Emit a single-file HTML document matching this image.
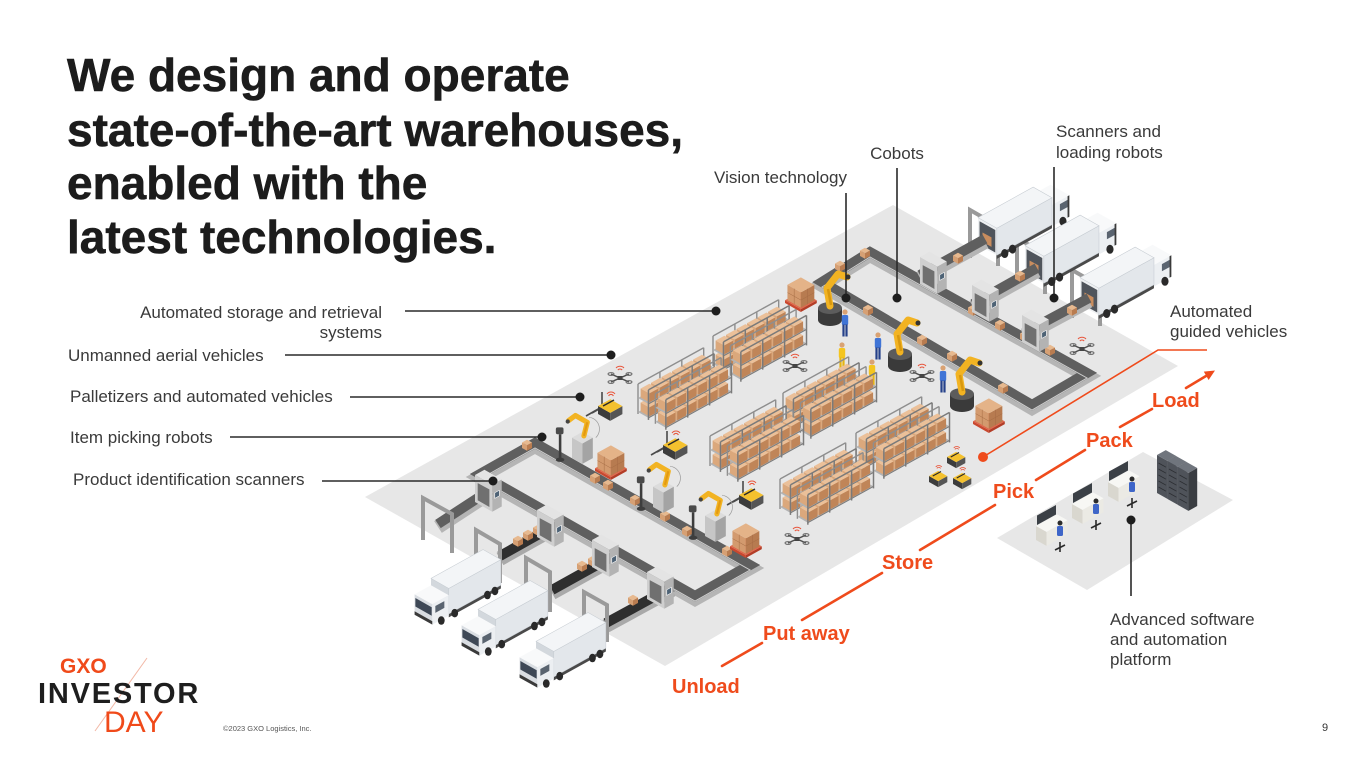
<!DOCTYPE html>
<html><head><meta charset="utf-8"><style>
html,body{margin:0;padding:0;background:#fff;}
svg{display:block;}
text{font-family:"Liberation Sans",Arial,sans-serif;}
</style></head><body>
<svg width="1365" height="768" viewBox="0 0 1365 768" xmlns="http://www.w3.org/2000/svg">
<defs>
<g id="bx"><polygon points="0,0 8.7,4.9 8.7,-4.1 0,-9" fill="#dba87c"/><polygon points="8.7,4.9 17.5,0.1 17.5,-8.9 8.7,-4.1" fill="#c08558"/><polygon points="0,-9 8.8,-13.8 17.5,-8.9 8.7,-4.1" fill="#ebc099"/></g>
<g id="sb"><polygon points="0,0 5,2.8 5,-2.7 0,-5.5" fill="#d6a074"/><polygon points="5,2.8 10,0 10,-5.5 5,-2.7" fill="#b97c50"/><polygon points="0,-5.5 5,-8.3 10,-5.5 5,-2.7" fill="#e7b98f"/></g>
<g id="sh">
 <g stroke="#8e8e8e" stroke-width="1.4"><line x1="0" y1="0" x2="0" y2="-30"/><line x1="21.9" y1="-12.1" x2="21.9" y2="-42.1"/><line x1="43.8" y1="-24.2" x2="43.8" y2="-54.2"/><line x1="65.7" y1="-36.3" x2="65.7" y2="-66.3"/><line x1="0" y1="-30" x2="65.7" y2="-66.3"/></g>
 <polygon points="0,-2 65.7,-38.3 76.1,-32.4 10.45,3.9" fill="#b3b3b3"/>
 <use href="#bx" x="55.2" y="-31.5"/><use href="#bx" x="44.7" y="-25.7"/><use href="#bx" x="34.1" y="-19.9"/><use href="#bx" x="23.6" y="-14.1"/><use href="#bx" x="13.1" y="-8.3"/><use href="#bx" x="2.6" y="-2.5"/>
 <polygon points="0,-16 65.7,-52.3 76.1,-46.4 10.45,-10.1" fill="#b3b3b3"/>
 <use href="#bx" x="55.2" y="-45.5"/><use href="#bx" x="44.7" y="-39.7"/><use href="#bx" x="34.1" y="-33.9"/><use href="#bx" x="23.6" y="-28.1"/><use href="#bx" x="13.1" y="-22.3"/><use href="#bx" x="2.6" y="-16.5"/>
 <g stroke="#7a7a7a" stroke-width="1.5"><line x1="10.45" y1="5.9" x2="10.45" y2="-24.1"/><line x1="32.3" y1="-6.2" x2="32.3" y2="-36.2"/><line x1="54.2" y1="-18.3" x2="54.2" y2="-48.3"/><line x1="76.1" y1="-30.4" x2="76.1" y2="-60.4"/><line x1="10.45" y1="-24.1" x2="76.1" y2="-60.4"/><line x1="10.45" y1="-10.1" x2="76.1" y2="-46.4" stroke-width="1"/><line x1="10.45" y1="3.9" x2="76.1" y2="-32.4" stroke-width="1"/></g>
</g>
<g id="rk"><use href="#sh"/><use href="#sh" x="17.4" y="9.8"/></g>
<g id="pl">
 <polygon points="0,0 22.6,12.8 22.6,8.8 0,-4" fill="#c9482f"/><polygon points="22.6,12.8 45.4,0.2 45.4,-3.8 22.6,8.8" fill="#b33d27"/><polygon points="0,-4 22.8,-16.6 45.4,-3.8 22.6,8.8" fill="#e0664a"/>
 <polygon points="3.5,-4 22.65,6.8 22.65,-15.2 3.5,-26" fill="#d39a6e"/><polygon points="22.65,6.8 41.9,-3.8 41.9,-25.8 22.65,-15.2" fill="#b77b50"/><polygon points="3.5,-26 22.7,-36.6 41.9,-25.8 22.65,-15.2" fill="#e4b388"/>
 <g stroke="#a56c44" stroke-width=".7"><line x1="3.5" y1="-15" x2="22.65" y2="-4.2"/><line x1="22.65" y1="-4.2" x2="41.9" y2="-14.8"/><line x1="13.1" y1="1.4" x2="13.1" y2="-20.6"/><line x1="32.3" y1="1.5" x2="32.3" y2="-20.5"/></g>
</g>
<g id="rb">
 <ellipse cx="0" cy="0" rx="12" ry="6" fill="#3a3a3a"/><rect x="-12" y="-12" width="24" height="12" fill="#3a3a3a"/><ellipse cx="0" cy="-12" rx="12" ry="6" fill="#5c5c5c"/>
 <path d="M0,-14 L-3,-32 L8,-46 L17,-43" fill="none" stroke="#f2b322" stroke-width="7" stroke-linejoin="round" stroke-linecap="round"/>
 <path d="M1,-15 L-2,-31" stroke="#d8980f" stroke-width="2.5"/><circle cx="18" cy="-43" r="2.5" fill="#333"/>
</g>
<g id="lr">
 <line x1="-14" y1="2" x2="-14" y2="-28" stroke="#3d3d3d" stroke-width="3"/><ellipse cx="-14" cy="2" rx="5" ry="2.5" fill="#3d3d3d"/><rect x="-19" y="-36" width="9" height="8" rx="2" fill="#4a4a4a"/>
 <polygon points="0,0 12.2,6.9 12.2,-17.1 0,-24" fill="#c6c6c6"/><polygon points="12.2,6.9 24.5,0.1 24.5,-23.9 12.2,-17.1" fill="#a4a4a4"/><polygon points="0,-24 12.3,-30.8 24.5,-23.9 12.2,-17.1" fill="#dcdcdc"/>
 <path d="M14,-26 L18,-42 L4,-50 L-4,-44" fill="none" stroke="#f2b322" stroke-width="6" stroke-linejoin="round" stroke-linecap="round"/>
 <path d="M14,-26 L18,-42" stroke="#e39a12" stroke-width="2.5"/><circle cx="-5" cy="-43" r="2.5" fill="#444"/>
 <path d="M20,-48 A14,14 0 0 1 28,-24" fill="none" stroke="#999" stroke-width="0.8"/>
</g>
<g id="agb">
 <polygon points="0,0 12.2,6.9 12.2,-1.1 0,-8" fill="#3c3c3c"/><polygon points="12.2,6.9 24.4,0.1 24.4,-7.9 12.2,-1.1" fill="#555"/>
 <polygon points="0,-8 12.3,-14.8 24.4,-7.9 12.2,-1.1" fill="#f4c12e"/><line x1="5" y1="-8" x2="16" y2="-14" stroke="#2a2a2a" stroke-width="1.5"/>
 <path d="M9,-20 a5,5 0 0 1 8,0 M10.6,-18 a2.6,2.6 0 0 1 4.8,0" stroke="#e8543a" fill="none" stroke-width="1"/>
</g>
<g id="agf"><path d="M2,-6 L-12,2 M8,-9 L-6,-1 M4,-7 L4,-22" stroke="#4a4a4a" stroke-width="1.6"/></g>
<g id="dr" fill="none">
 <path d="M-9,-4 L9,4 M-9,4 L9,-4" stroke="#4d4d4d" stroke-width="1.5"/>
 <g stroke="#666" stroke-width="1"><ellipse cx="-9" cy="-4" rx="3" ry="1.4"/><ellipse cx="9" cy="4" rx="3" ry="1.4"/><ellipse cx="-9" cy="4" rx="3" ry="1.4"/><ellipse cx="9" cy="-4" rx="3" ry="1.4"/></g>
 <rect x="-2.5" y="-2" width="5" height="4" fill="#444"/>
 <path d="M-4,-10 a5.5,5.5 0 0 1 8,0 M-2.2,-8 a3,3 0 0 1 4.4,0" stroke="#e8543a" stroke-width="1"/>
</g>
<g id="pb"><circle cx="0" cy="-25" r="2.6" fill="#d9a273"/><rect x="-3.2" y="-22" width="6.4" height="10" rx="1.5" fill="#3f74d6"/><rect x="-2.6" y="-12.5" width="2.2" height="12" fill="#25418a"/><rect x="0.4" y="-12.5" width="2.2" height="12" fill="#25418a"/></g>
<g id="py"><circle cx="0" cy="-25" r="2.6" fill="#d9a273"/><rect x="-3.2" y="-22" width="6.4" height="10" rx="1.5" fill="#f4c51f"/><rect x="-2.6" y="-12.5" width="2.2" height="12" fill="#e6b412"/><rect x="0.4" y="-12.5" width="2.2" height="12" fill="#e6b412"/></g>
<g id="sc">
 <polygon points="0,0 19.2,10.8 19.2,-19.2 0,-30" fill="#cfcfcf"/><polygon points="3,-2 16,5.5 16,-14 3,-21" fill="#707070"/>
 <polygon points="19.2,10.8 29.7,5 29.7,-25 19.2,-19.2" fill="#b3b3b3"/><polygon points="22,-4 27,-6.8 27,-13 22,-10.2" fill="#4d6275" stroke="#fff" stroke-width=".6"/>
 <polygon points="0,-30 10.5,-35.8 29.7,-25 19.2,-19.2" fill="#e4e4e4"/>
</g>
<g id="ws">
 <polygon points="1,-15 20,-25.5 20,-35 1,-24.5" fill="#3b4046"/>
 <polygon points="0,0 10.5,5.9 10.5,-8.1 0,-14" fill="#d9d7cf"/><polygon points="10.5,5.9 31.5,-5.7 31.5,-19.7 10.5,-8.1" fill="#ebeae4"/><polygon points="0,-14 21,-25.6 31.5,-19.7 10.5,-8.1" fill="#f7f7f4"/>
 <rect x="21" y="-14" width="6" height="10" rx="1.5" fill="#3f66c8"/><circle cx="24" cy="-17" r="2.5" fill="#2b2b2b"/>
 <path d="M19,10 L29,5 M24,2 L24,12" stroke="#2a2a2a" stroke-width="1.6"/>
</g>
<g id="sv">
 <polygon points="0,0 10.45,5.9 10.45,-32.1 0,-38" fill="#4f535a"/><polygon points="10.45,5.9 19.2,1.05 19.2,-36.95 10.45,-32.1" fill="#3a3d42"/><polygon points="0,-38 8.76,-42.84 19.2,-36.95 10.45,-32.1" fill="#70757d"/>
 <g stroke="#2c2e32" stroke-width=".8"><line x1="1.5" y1="-30" x2="9" y2="-25.8"/><line x1="1.5" y1="-24" x2="9" y2="-19.8"/><line x1="1.5" y1="-18" x2="9" y2="-13.8"/><line x1="1.5" y1="-12" x2="9" y2="-7.8"/><line x1="1.5" y1="-6" x2="9" y2="-1.8"/></g>
</g>
<g id="trL">
 <polygon points="20.9,5.8 82.2,-28.1 82.2,-24.1 20.9,9.8" fill="#4a4a4a"/>
 <polygon points="0,-6 20.9,5.8 20.9,-24.2 0,-36" fill="#d3d8dd"/>
 <polygon points="20.9,5.8 82.2,-28.1 82.2,-58.1 20.9,-24.2" fill="#e3e7eb" stroke="#c5cbd1" stroke-width=".6"/>
 <polygon points="0,-36 61.3,-69.9 82.2,-58.1 20.9,-24.2" fill="#f3f5f7" stroke="#c5cbd1" stroke-width=".6"/>
 <ellipse cx="66.4" cy="-16.4" rx="4" ry="5" fill="#2a2a2a"/><ellipse cx="75.2" cy="-21.2" rx="4" ry="5" fill="#2a2a2a"/><ellipse cx="27.9" cy="4.9" rx="4" ry="5" fill="#2a2a2a"/>
 <polygon points="-19.3,6.7 1.6,18.4 1.6,-5.6 -19.3,-17.4" fill="#d9dde2"/>
 <polygon points="-18.4,-2.9 0.8,7.9 0.8,-2.1 -18.4,-12.9" fill="#3e4856"/>
 <polygon points="-19.3,6.7 1.6,18.4 1.6,14.4 -19.3,2.65" fill="#3a3a3a"/>
 <polygon points="1.6,18.4 20.9,7.8 20.9,-16.2 1.6,-5.6" fill="#eceff2"/>
 <polygon points="5.1,4.5 15.7,-1.3 15.7,-9.3 5.1,-3.5" fill="#5a6470"/>
 <polygon points="-19.3,-17.4 0,-28 20.9,-16.2 1.6,-5.6" fill="#f8f9fa"/>
 <ellipse cx="12.1" cy="13.6" rx="4" ry="5" fill="#2a2a2a"/>
</g>
<g id="trR">
 <polygon points="82.2,-26.1 101.5,-36.8 101.5,-60.8 82.2,-50.1" fill="#eceff2"/>
 <polygon points="61.3,-61.9 80.6,-72.5 101.5,-60.8 82.2,-50.1" fill="#f8f9fa"/>
 <polygon points="91,-43 99.7,-47.8 99.7,-55.8 91,-51" fill="#5a6470"/>
 <polygon points="99.5,-36 101.5,-37 101.5,-60.8 99.5,-59.7" fill="#3a3a3a"/>
 <ellipse cx="94.4" cy="-31.9" rx="4" ry="5" fill="#2a2a2a"/>
 <polygon points="20.9,5.8 82.2,-28.1 82.2,-24.1 20.9,9.8" fill="#4a4a4a"/>
 <polygon points="0,-6 20.9,5.8 20.9,-24.2 0,-36" fill="#eef0f2"/>
 <polygon points="1.7,-7 19.2,2.8 19.2,-22.2 1.7,-32" fill="#50555c"/>
 <polygon points="5,-9 15,-3.5 15,-14 5,-19.5" fill="#c98d5e"/>
 <polygon points="20.9,5.8 82.2,-28.1 82.2,-58.1 20.9,-24.2" fill="#e3e7eb" stroke="#c5cbd1" stroke-width=".6"/>
 <polygon points="0,-36 61.3,-69.9 82.2,-58.1 20.9,-24.2" fill="#f3f5f7" stroke="#c5cbd1" stroke-width=".6"/>
 <ellipse cx="29.7" cy="3.9" rx="4" ry="5" fill="#2a2a2a"/><ellipse cx="38.4" cy="-1" rx="4" ry="5" fill="#2a2a2a"/>
</g>
</defs>

<!-- floors -->
<polygon points="365,497 893,205 1178,366 665,666" fill="#e7e7e7"/>
<polygon points="997,538 1143,452 1233,500 1087,590" fill="#e7e7e7"/>

<!-- top trucks with frames -->
<g fill="none" stroke="#9a9a9a" stroke-width="4">
 <path d="M970,258 L970,210 L998,226 L998,266"/>
 <path d="M1017,286 L1017,238 L1045,254 L1045,294"/>
 <path d="M1072,318 L1072,270 L1100,286 L1100,326"/>
</g>
<use href="#trR" transform="translate(978,250) scale(.9)"/>
<use href="#trR" transform="translate(1025,278) scale(.9)"/>
<use href="#trR" transform="translate(1080,310) scale(.9)"/>

<!-- conveyors -->
<g fill="none" stroke-linejoin="miter">
 <path d="M480,474 L535,443 L750,565 L695,596 Z" stroke="#b5b5b5" stroke-width="14" transform="translate(0,3)"/>
 <path d="M480,474 L535,443 L750,565 L695,596 Z" stroke="#5f5f5f" stroke-width="10"/>
 <path d="M490,490 L438,524" stroke="#b5b5b5" stroke-width="14" transform="translate(0,3)"/>
 <path d="M490,490 L438,524" stroke="#5f5f5f" stroke-width="10"/>
 <path d="M557,524 L500,556 M615,555 L552,590 M672,587 L606,623" stroke="#a9a9a9" stroke-width="14" transform="translate(0,3)"/>
 <path d="M557,524 L500,556 M615,555 L552,590 M672,587 L606,623" stroke="#2e2e2e" stroke-width="10"/>
 <path d="M822,282 L870,252 L1087,373 L1032,405 Z" stroke="#b5b5b5" stroke-width="14" transform="translate(0,3)"/>
 <path d="M822,282 L870,252 L1087,373 L1032,405 Z" stroke="#5f5f5f" stroke-width="10"/>
 <path d="M920,275 L985,239 M973,304 L1037,268 M1024,333 L1089,298" stroke="#b5b5b5" stroke-width="14" transform="translate(0,3)"/>
 <path d="M920,275 L985,239 M973,304 L1037,268 M1024,333 L1089,298" stroke="#5f5f5f" stroke-width="10"/>
 <path d="M480,474 L535,443 L750,565 L695,596 Z" stroke="#cfcfcf" stroke-width="1" transform="translate(0,5)"/>
 <path d="M822,282 L870,252 L1087,373 L1032,405 Z" stroke="#cfcfcf" stroke-width="1" transform="translate(0,5)"/>
</g>
<!-- boxes on belts -->
<use href="#sb" x="522" y="448"/><use href="#sb" x="590" y="481"/><use href="#sb" x="603" y="488"/><use href="#sb" x="630" y="503"/><use href="#sb" x="660" y="519"/><use href="#sb" x="682" y="534"/><use href="#sb" x="722" y="554"/>
<use href="#sb" x="513" y="544"/><use href="#sb" x="523" y="538"/><use href="#sb" x="533" y="533"/><use href="#sb" x="577" y="569"/><use href="#sb" x="588" y="564"/><use href="#sb" x="628" y="603"/><use href="#sb" x="647" y="593"/>
<use href="#sb" x="860" y="256"/><use href="#sb" x="835" y="269"/><use href="#sb" x="863" y="313"/><use href="#sb" x="917" y="343"/><use href="#sb" x="947" y="359"/><use href="#sb" x="998" y="391"/><use href="#sb" x="953" y="261"/><use href="#sb" x="920" y="281"/><use href="#sb" x="968" y="313"/><use href="#sb" x="1015" y="279"/><use href="#sb" x="995" y="328"/><use href="#sb" x="1020" y="339"/><use href="#sb" x="1067" y="313"/><use href="#sb" x="1045" y="353"/>
<!-- upper scanners -->
<use href="#sc" transform="translate(920,284) scale(.9)"/>
<use href="#sc" transform="translate(972,312) scale(.9)"/>
<use href="#sc" transform="translate(1022,342) scale(.9)"/>

<!-- scene items back to front -->
<use href="#pl" transform="translate(785,303) scale(.7)"/>
<use href="#rb" x="830" y="320"/>
<use href="#rk" x="713" y="366"/>
<use href="#dr" x="795" y="366"/>
<use href="#pb" x="845" y="337"/>
<use href="#rb" x="900" y="366"/>
<use href="#pb" x="878" y="360"/>
<use href="#py" x="842" y="370"/>
<use href="#dr" x="620" y="378"/>
<use href="#dr" x="922" y="376"/>
<use href="#dr" x="1082" y="349"/>
<use href="#py" x="872" y="387"/>
<use href="#pb" x="943" y="393"/>
<use href="#rb" x="962" y="406"/>
<use href="#rk" x="638" y="414"/>
<use href="#agf" x="598" y="414"/><use href="#agb" x="598" y="414"/>
<use href="#rk" x="783" y="423"/>
<use href="#pl" transform="translate(973,424) scale(.7)"/>
<use href="#agf" x="663" y="453"/><use href="#agb" x="663" y="453"/>
<use href="#rk" x="856" y="463"/>
<use href="#rk" x="710" y="466"/>
<use href="#agb" transform="translate(947,463) scale(.75)"/>
<use href="#agb" transform="translate(929,482) scale(.75)"/>
<use href="#agb" transform="translate(953,484) scale(.75)"/>
<use href="#lr" transform="translate(572,458) scale(.85)"/>
<use href="#pl" transform="translate(595,471) scale(.7)"/>
<use href="#agf" x="739" y="503"/><use href="#agb" x="739" y="503"/>
<use href="#lr" transform="translate(653,507) scale(.85)"/>
<use href="#rk" x="780" y="509"/>
<use href="#lr" transform="translate(705,536) scale(.85)"/>
<use href="#dr" x="797" y="539"/>
<use href="#pl" transform="translate(730,549) scale(.7)"/>

<!-- lower scanners -->
<use href="#sc" transform="translate(475,502) scale(.9)"/>
<use href="#sc" transform="translate(537,537) scale(.9)"/>
<use href="#sc" transform="translate(592,567) scale(.9)"/>
<use href="#sc" transform="translate(647,599) scale(.9)"/>

<!-- dock frames lower -->
<g fill="none" stroke="#9a9a9a" stroke-width="4">
 <path d="M423,540 L423,498 L452,514 L452,553"/>
 <path d="M476,568 L476,530 L500,544 L500,583"/>
 <path d="M526,598 L526,558 L550,572 L550,612"/>
 <path d="M584,630 L584,592 L607,605 L607,642"/>
</g>
<!-- lower trucks -->
<use href="#trL" transform="translate(431,609) scale(.85)"/>
<use href="#trL" transform="translate(478,640) scale(.85)"/>
<use href="#trL" transform="translate(536,672) scale(.85)"/>

<!-- software area -->
<use href="#sv" x="1157" y="493"/><use href="#sv" x="1167.5" y="499"/><use href="#sv" x="1178" y="505"/>
<use href="#ws" x="1108" y="496"/>
<use href="#ws" x="1072" y="518"/>
<use href="#ws" x="1036" y="540"/>

<!-- title -->
<g font-size="46" font-weight="bold" fill="#1c1c1c" stroke="#1c1c1c" stroke-width="0.6">
 <text x="67" y="91">We design and operate</text>
 <text x="67" y="146">state-of-the-art warehouses,</text>
 <text x="67" y="199">enabled with the</text>
 <text x="67" y="253">latest technologies.</text>
</g>

<!-- labels -->
<g font-size="17" fill="#3a3a3a">
 <text x="382" y="318" text-anchor="end">Automated storage and retrieval</text>
 <text x="382" y="338" text-anchor="end">systems</text>
 <text x="68" y="361">Unmanned aerial vehicles</text>
 <text x="70" y="402">Palletizers and automated vehicles</text>
 <text x="70" y="443">Item picking robots</text>
 <text x="73" y="485">Product identification scanners</text>
 <text x="847" y="183" text-anchor="end">Vision technology</text>
 <text x="897" y="159" text-anchor="middle">Cobots</text>
 <text x="1056" y="137">Scanners and</text>
 <text x="1056" y="158">loading robots</text>
 <text x="1170" y="317">Automated</text>
 <text x="1170" y="337">guided vehicles</text>
 <text x="1110" y="625">Advanced software</text>
 <text x="1110" y="645">and automation</text>
 <text x="1110" y="665">platform</text>
</g>

<!-- leader lines -->
<g stroke="#2a2a2a" stroke-width="1.6">
 <line x1="405" y1="311" x2="716" y2="311"/>
 <line x1="285" y1="355" x2="611" y2="355"/>
 <line x1="350" y1="397" x2="580" y2="397"/>
 <line x1="230" y1="437" x2="542" y2="437"/>
 <line x1="322" y1="481" x2="493" y2="481"/>
 <line x1="846" y1="193" x2="846" y2="298"/>
 <line x1="897" y1="168" x2="897" y2="298"/>
 <line x1="1054" y1="167" x2="1054" y2="298"/>
 <line x1="1131" y1="520" x2="1131" y2="596"/>
</g>
<g fill="#1e1e1e">
 <circle cx="716" cy="311" r="4.5"/><circle cx="611" cy="355" r="4.5"/><circle cx="580" cy="397" r="4.5"/><circle cx="542" cy="437" r="4.5"/><circle cx="493" cy="481" r="4.5"/>
 <circle cx="846" cy="298" r="4.5"/><circle cx="897" cy="298" r="4.5"/><circle cx="1054" cy="298" r="4.5"/><circle cx="1131" cy="520" r="4.5"/>
</g>

<!-- AGV orange callout -->
<polyline points="983,457 1158,350 1207,350" fill="none" stroke="#ef4b1c" stroke-width="1.6"/>
<circle cx="983" cy="457" r="5" fill="#ef4b1c"/>

<!-- flow -->
<g stroke="#ef4b1c" stroke-width="2.6" stroke-linecap="round">
 <line x1="722" y1="666" x2="762" y2="643"/>
 <line x1="802" y1="620" x2="882" y2="573"/>
 <line x1="920" y1="550" x2="995" y2="505"/>
 <line x1="1036" y1="480" x2="1085" y2="450"/>
 <line x1="1120" y1="427" x2="1152" y2="409"/>
 <line x1="1186" y1="388" x2="1206" y2="376"/>
</g>
<polygon points="1215,370.5 1208.6,380 1203.8,371.6" fill="#ef4b1c"/>
<g font-size="20" font-weight="bold" fill="#ef4b1c">
 <text x="672" y="693">Unload</text>
 <text x="763" y="640">Put away</text>
 <text x="882" y="569">Store</text>
 <text x="993" y="498">Pick</text>
 <text x="1086" y="447">Pack</text>
 <text x="1152" y="407">Load</text>
</g>

<!-- logo -->
<line x1="147" y1="658" x2="95" y2="731" stroke="#f2b8a6" stroke-width="1"/>
<text x="60" y="673" font-size="21" font-weight="bold" fill="#f04a1a">GXO</text>
<text x="38" y="703" font-size="29" font-weight="bold" fill="#1e1e1e" letter-spacing="1.8">INVESTOR</text>
<text x="104" y="732" font-size="30" fill="#f04a1a">DAY</text>
<text x="223" y="731" font-size="7.5" fill="#555">©2023 GXO Logistics, Inc.</text>
<text x="1322" y="731" font-size="11" fill="#333">9</text>
</svg>
</body></html>
